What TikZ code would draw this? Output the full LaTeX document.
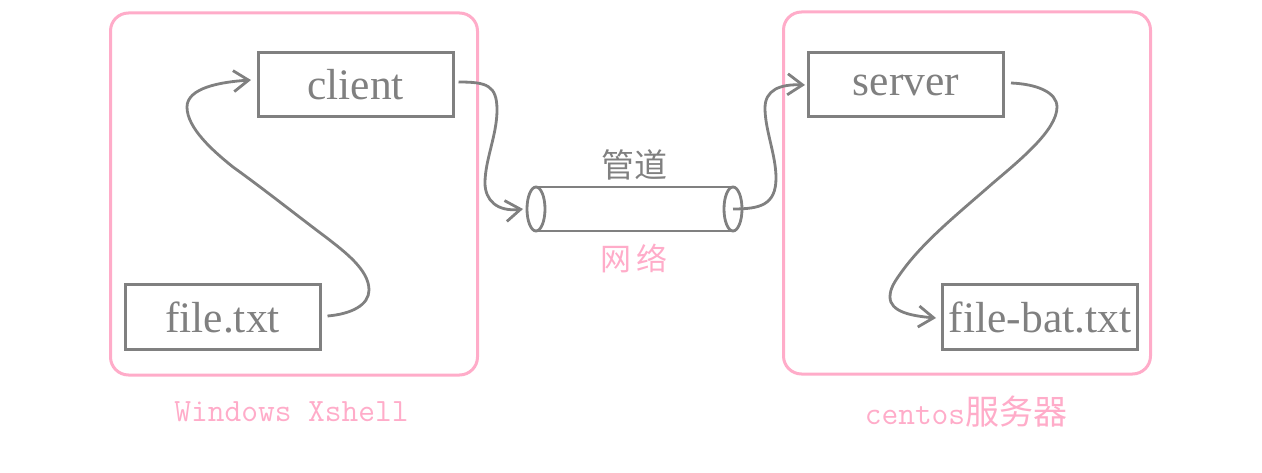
\documentclass[tikz,border=0pt]{standalone}
\usepackage{fontspec}
\setmainfont{Liberation Serif}
\setmonofont{Latin Modern Mono}
\newfontfamily\cjk{Noto Sans CJK SC}
\usetikzlibrary{arrows.meta,shapes.geometric}
\definecolor{linegray}{HTML}{808080}
\definecolor{softpink}{HTML}{FFACC9}
\begin{document}
\begin{tikzpicture}[x=1pt,y=-1pt,
  hostbox/.style={draw=softpink, line width=3pt, rounded corners=18pt, minimum width=367pt, minimum height=362pt, inner sep=0pt},
  filebox/.style={draw=linegray, line width=3pt, text=linegray, minimum width=195pt, minimum height=64pt, inner sep=0pt, font=\fontsize{43.5}{43.5}\selectfont},
  pipeend/.style={ellipse, draw=linegray, line width=2.8pt, minimum width=18pt, minimum height=44pt, inner sep=0pt, outer sep=0pt},
  flow/.style={draw=linegray, line width=2.8pt},
  flowtip/.style={-{Straight Barb[length=15pt,width=21pt,line width=2.8pt]}},
  pinktext/.style={text=softpink, inner sep=0pt}]
\useasboundingbox (0,0) rectangle (1262,473);
% hosts
\node[hostbox] (windows) at (294,194) {};
\node[hostbox] (centos) at (967,193) {};
\node[pinktext, font=\ttfamily\fontsize{32.5}{32.5}\selectfont] (windowslabel) at (291.5,412) {Windows Xshell};
\node[pinktext, font=\ttfamily\fontsize{32.5}{32.5}\selectfont] (centoslabel) at (966,412) {centos{\cjk\fontsize{34}{34}\selectfont 服务器}};
% files and programs
\foreach \n/\x/\y/\l in {client/355.5/85/client,server/906/85/server,file/222.5/317/file.txt,filebat/1040/317/file-bat.txt} {
  \node[filebox] (\n) at (\x,\y) {\l};
}
% pipe
\node[pipeend] (pipeleft) at (536,209) {};
\node[pipeend] (piperight) at (733,209) {};
\draw[flow] (pipeleft.north) -- (piperight.north);
\draw[flow] (pipeleft.south) -- (piperight.south);
\node[text=linegray, inner sep=0pt, font=\cjk\fontsize{33}{33}\selectfont] (pipelabel) at (634,165) {管道};
\node[pinktext, font=\cjk\fontsize{31}{31}\selectfont] (netlabel) at (634,258) {网\,络};
% flows
\draw[flow, flowtip] (file.east) ++(6,-1) .. controls +(24,-2) and (369,305) .. (369,290)
  .. controls (369,270) and (345,252) .. (327,238)
  .. controls (295,214) and (265,190) .. (233,167)
  .. controls (213,151) and (187,128) .. (187,107)
  .. controls (187,88) and (220,82) .. (251,80);
\draw[flow, flowtip] (client.east) ++(4,-3) .. controls +(28,0) and (497,85) .. (497,110)
  .. controls (497,135) and (485,160) .. (485,183)
  .. controls (485,200) and (497,212) .. (523,209);
\draw[flow, flowtip] (piperight.center) .. controls +(27,0) and (776,205) .. (776,178)
  .. controls (776,155) and (765,130) .. (765,108)
  .. controls (765,90) and (780,84) .. (805,85);
\draw[flow, flowtip] (server.east) ++(6,-2) .. controls +(25,1) and (1057,92) .. (1057,107)
  .. controls (1057,130) and (1020,160) .. (993,183)
  .. controls (960,212) and (925,240) .. (903,270)
  .. controls (895,281) and (890,288) .. (890,297)
  .. controls (890,312) and (912,316) .. (936,318);
\end{tikzpicture}
\end{document}
